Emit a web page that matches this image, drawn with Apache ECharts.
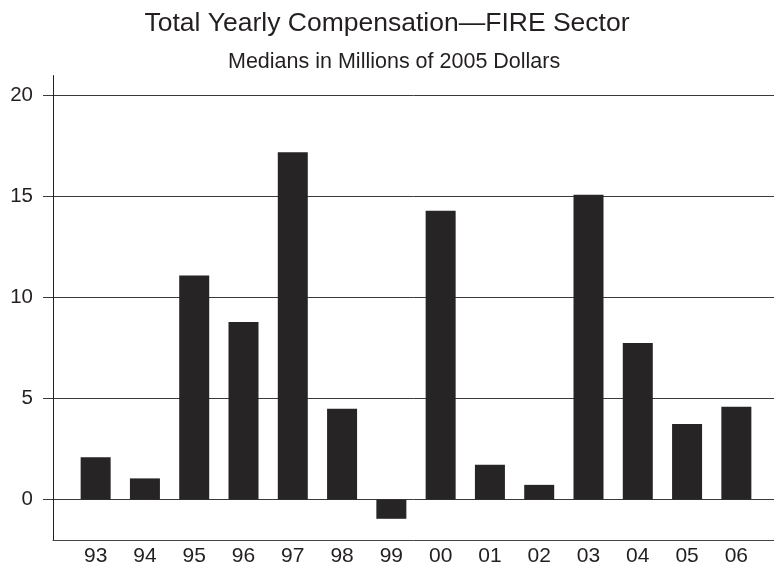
<!DOCTYPE html>
<html>
<head>
<meta charset="utf-8">
<script src="https://cdn.jsdelivr.net/npm/echarts@6/dist/echarts.min.js"></script>
<style>
  html, body { margin: 0; padding: 0; background: #fff; }
  #chart { width: 774px; height: 568px; }
</style>
</head>
<body>
<div id="chart"></div>
<script>
// Fiscal years (two-digit labels) and median total compensation, $M (2005 dollars)
const years = ['93', '94', '95', '96', '97', '98', '99', '00', '01', '02', '03', '04', '05', '06'];
const medians = [2.1, 1.05, 11.1, 8.8, 17.2, 4.5, -0.95, 14.3, 1.72, 0.73, 15.1, 7.75, 3.75, 4.6];
const yTicks = [0, 5, 10, 15, 20];

const FONT = '"Liberation Sans", Arial, Helvetica, sans-serif';
const INK = '#231f20';

const chart = echarts.init(document.getElementById('chart'), null, { renderer: 'canvas' });

const yMin = -2, yMax = 21;

chart.setOption({
  animation: false,
  backgroundColor: '#ffffff',
  title: [
    {
      text: 'Total Yearly Compensation\u2014FIRE Sector',
      left: 'center',
      top: 5,
      textStyle: { fontFamily: FONT, fontSize: 26.5, lineHeight: 28, fontWeight: 'normal', color: INK }
    },
    {
      text: 'Medians in Millions of 2005 Dollars',
      left: 223,
      top: 45,
      textStyle: { fontFamily: FONT, fontSize: 21.5, lineHeight: 24, fontWeight: 'normal', color: INK }
    }
  ],
  grid: [
    // frame grid: horizontal rules and the left value axis
    { left: 53, right: -6, top: 75.5, bottom: 28 },
    // bar grid: category bands inset from the axis line
    { left: 71, right: 13, top: 75.5, bottom: 28 }
  ],
  xAxis: [
    {
      gridIndex: 0, type: 'value', min: 0, max: 1,
      axisLine: { show: true, onZero: false, lineStyle: { color: '#444', width: 1 } },
      axisTick: { show: false }, axisLabel: { show: false }, splitLine: { show: false }
    },
    {
      gridIndex: 1, type: 'category', data: years,
      axisLine: { show: false }, axisTick: { show: false },
      axisLabel: { margin: 6, fontFamily: FONT, fontSize: 21, color: INK }
    }
  ],
  yAxis: [
    {
      gridIndex: 0, type: 'value', min: yMin, max: yMax,
      axisLine: { show: true, onZero: false, lineStyle: { color: INK, width: 1 } },
      axisTick: { show: true, inside: false, length: 10, customValues: yTicks, lineStyle: { color: '#3a3a3a', width: 1 } },
      axisLabel: { margin: 20, customValues: yTicks, fontFamily: FONT, fontSize: 20.5, color: INK },
      splitLine: { show: true, lineStyle: { color: '#3a3a3a', width: 1 } }
    },
    {
      gridIndex: 1, type: 'value', min: yMin, max: yMax, show: false,
      splitLine: { show: false }
    }
  ],
  series: [
    {
      type: 'bar',
      xAxisIndex: 1, yAxisIndex: 1,
      data: medians,
      barWidth: 30,
      itemStyle: { color: '#262425' },
      z: 3
    }
  ]
});
</script>
</body>
</html>
